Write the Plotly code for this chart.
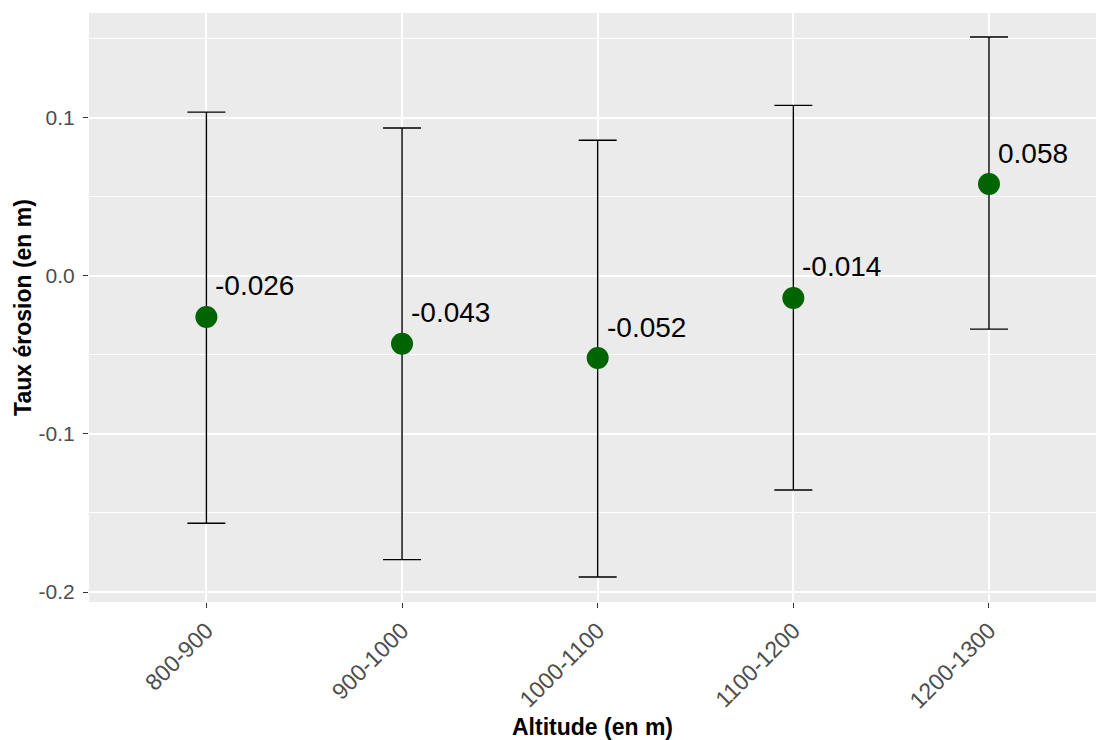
import plotly.graph_objects as go

categories = ["800-900", "900-1000", "1000-1100", "1100-1200", "1200-1300"]
means = [-0.026, -0.043, -0.052, -0.014, 0.058]
upper = [0.1035, 0.0935, 0.0857, 0.1078, 0.1510]
lower = [-0.1565, -0.1795, -0.1905, -0.1355, -0.0337]
labels = ["-0.026", "-0.043", "-0.052", "-0.014", "0.058"]

err_plus = [u - m for u, m in zip(upper, means)]
err_minus = [m - l for m, l in zip(means, lower)]

fig = go.Figure()
fig.add_trace(go.Scatter(
    x=categories, y=means, mode="markers",
    marker=dict(color="#006400", size=22),
    error_y=dict(type="data", symmetric=False, array=err_plus, arrayminus=err_minus,
                 color="black", thickness=1.4, width=19),
    showlegend=False, hoverinfo="skip",
))

for c, m, t in zip(categories, means, labels):
    fig.add_annotation(x=c, y=m, text=t, showarrow=False, xanchor="left", yanchor="middle",
                       xshift=7, yshift=31,
                       font=dict(family="Liberation Sans, Arial", size=28, color="black"))

fig.update_layout(
    width=1096, height=740,
    margin=dict(l=89, r=0, t=13, b=138),
    paper_bgcolor="white", plot_bgcolor="#EBEBEB",
    font=dict(family="Liberation Sans, Arial", color="#4D4D4D"),
    xaxis=dict(
        type="category", range=[-0.6, 4.547],
        showgrid=True, gridcolor="white", gridwidth=1.5,
        ticks="outside", ticklen=5, tickcolor="#333333", tickwidth=1.2,
        tickangle=-45, tickfont=dict(size=23, color="#4D4D4D"),
        title=dict(text="<b>Altitude (en m)</b>", font=dict(size=23, color="black"), standoff=10),
        zeroline=False, showline=False,
    ),
    yaxis=dict(
        range=[-0.2063, 0.1662],
        tickvals=[-0.2, -0.1, 0.0, 0.1], ticktext=["-0.2", "-0.1", "0.0", "0.1"],
        showgrid=True, gridcolor="white", gridwidth=1.5,
        minor=dict(tickvals=[-0.15, -0.05, 0.05, 0.15], showgrid=True, gridcolor="white", gridwidth=0.8, ticks=""),
        ticks="outside", ticklen=5, tickcolor="#333333", tickwidth=1.2,
        ticklabelstandoff=4,
        tickfont=dict(size=21, color="#4D4D4D"),
        title=dict(text="<b>Taux érosion (en m)</b>", font=dict(size=23, color="black"), standoff=0),
        zeroline=False, showline=False,
    ),
)

fig.write_html("out.html", config={"displayModeBar": False},
               post_script="document.body.style.margin='0px';document.body.style.overflow='hidden';")
